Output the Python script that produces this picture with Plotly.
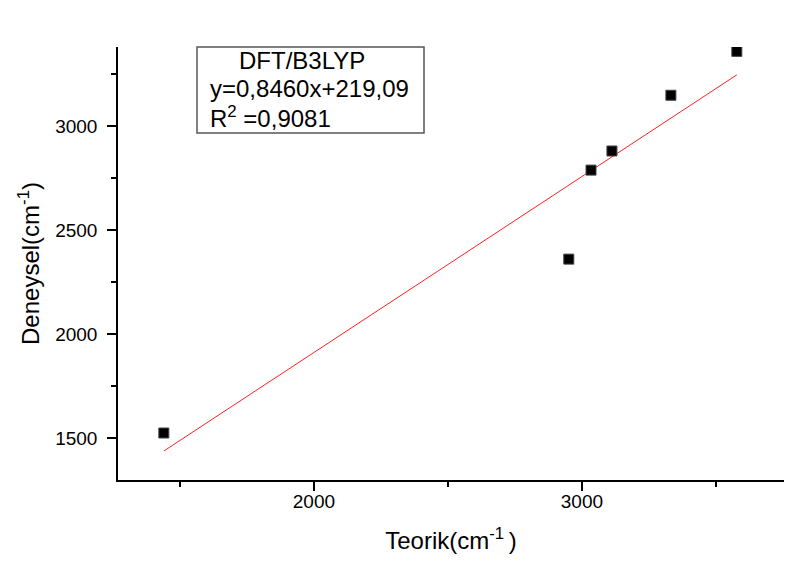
import plotly.graph_objects as go

# Data
teorik = [1440, 2951, 3034, 3112, 3332, 3578]
deneysel = [1524, 2360, 2788, 2880, 3148, 3359]
slope = 0.8460
intercept = 219.09
r2 = 0.9081

fit_x = [min(teorik), max(teorik)]
fit_y = [slope * v + intercept for v in fit_x]

OFF = 8  # page body margin
W, H = 811 - OFF, 563 - OFF
L, R, T, B = 118 - OFF, 27, 47 - OFF, 83

FONT = "Liberation Sans, Arial, sans-serif"

fig = go.Figure()
fig.add_trace(go.Scatter(x=fit_x, y=fit_y, mode="lines",
                         line=dict(color="#ff2020", width=1), showlegend=False,
                         hoverinfo="skip"))
fig.add_trace(go.Scatter(x=teorik, y=deneysel, mode="markers",
                         marker=dict(symbol="square", size=10, color="black",
                                     line=dict(color="#444", width=1)),
                         showlegend=False))

axis_common = dict(showline=True, linecolor="black", linewidth=1.5,
                   ticks="outside", ticklen=9, tickwidth=1.5, tickcolor="black",
                   showgrid=False, zeroline=False, mirror=False,
                   tickfont=dict(family=FONT, size=19, color="black"))

fig.update_xaxes(range=[1269, 3754], tick0=0, dtick=1000,
                 minor=dict(dtick=500, tick0=0, ticklen=5, tickwidth=1.5,
                            tickcolor="black", ticks="outside"),
                 title=dict(text="Teorik(cm<sup>-1 </sup>)",
                            font=dict(family=FONT, size=24, color="black"),
                            standoff=22),
                 ticklabelstandoff=-6,
                 **axis_common)
fig.update_yaxes(range=[1298, 3380], tick0=0, dtick=500,
                 minor=dict(dtick=250, tick0=0, ticklen=5, tickwidth=1.5,
                            tickcolor="black", ticks="outside"),
                 title=dict(text="Deneysel(cm<sup>-1</sup>)",
                            font=dict(family=FONT, size=24, color="black"),
                            standoff=9),
                 ticklabelstandoff=6,
                 **axis_common)

pw = W - L - R
ph = H - T - B
def px(x):
    return (x - OFF - L) / pw
def py(y):
    return (H - B - (y - OFF)) / ph

# Legend-like text box
fig.add_shape(type="rect", xref="paper", yref="paper",
              x0=px(197), x1=px(424), y0=py(133), y1=py(47),
              line=dict(color="#555", width=1.5), fillcolor="rgba(0,0,0,0)")
box_lines = ["DFT/B3LYP", f"y={slope:.4f}x+{intercept:.2f}".replace(".", ","),
             f"R<sup>2</sup> ={r2:.4f}".replace(".", ",")]
box_pos = [(237, 61), (208, 89), (208, 117)]
for txt, (bx, by) in zip(box_lines, box_pos):
    fig.add_annotation(xref="paper", yref="paper", x=px(bx), y=py(by),
                       xanchor="left", yanchor="middle", text=txt, showarrow=False,
                       font=dict(family=FONT, size=24, color="black"))

fig.update_layout(width=W, height=H, margin=dict(l=L, r=R, t=T, b=B),
                  plot_bgcolor="white", paper_bgcolor="white",
                  font=dict(family=FONT, color="black"))

fig.write_html("out.html")
